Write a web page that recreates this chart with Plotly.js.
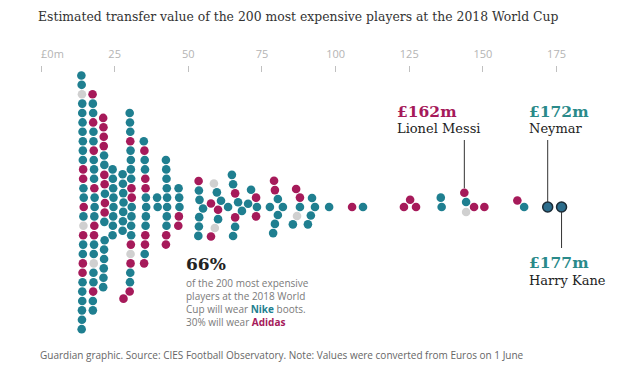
<!DOCTYPE html>
<html><head><meta charset="utf-8">
<script src="https://cdn.plot.ly/plotly-3.0.1.min.js"></script>
<style>html,body{margin:0;padding:0;background:#fff}#chart{width:623px;height:371px}</style>
</head><body><div id="chart"></div>
<script>
// Estimated transfer values (£m), ranked from most to least expensive
const values = [
  176.7,172.0,164.0,161.7,150.5,147.0,144.3,144.3,143.7,136.0,135.7,127.3,125.3,123.2,
  109.3,105.6,97.8,93.0,92.0,91.6,90.6,87.9,87.9,86.9,86.6,85.5,82.1,80.4,80.4,79.4,79.4,79.1,78.8,77.7,
  73.3,73.0,73.0,71.3,70.3,68.2,66.9,65.9,65.9,65.9,65.2,65.2,64.8,63.5,61.1,60.1,60.1,59.7,59.0,58.7,57.7,57.7,55.0,
  53.8,53.7,53.6,53.6,53.5,53.4,
  47.0,46.9,46.8,46.7,46.6,
  42.8,42.8,42.7,42.7,42.6,42.6,42.5,42.5,42.4,42.4,
  39.6,39.4,
  35.7,35.6,35.6,35.5,35.5,35.4,35.4,35.3,35.3,35.2,35.2,35.1,35.0,34.9,
  30.8,30.8,30.7,30.7,30.6,30.6,30.6,30.5,30.5,30.5,30.4,30.4,30.4,30.3,30.3,30.3,30.2,30.2,30.1,30.1,
  28.0,28.0,27.9,27.9,27.8,27.8,27.7,27.7,
  24.6,24.6,24.5,24.5,24.4,24.4,24.3,24.3,
  21.7,21.7,21.6,21.6,21.6,21.5,21.5,21.5,21.4,21.4,21.4,21.3,21.3,21.3,21.2,21.2,21.1,21.1,
  18.2,18.2,18.1,18.1,18.1,18.0,18.0,18.0,18.0,17.9,17.9,17.9,17.9,17.8,17.8,17.8,17.8,17.7,17.7,17.7,17.6,17.6,17.6,17.5,
  14.5,14.5,14.4,14.4,14.4,14.3,14.3,14.3,14.3,14.2,14.2,14.2,14.2,14.2,14.1,14.1,14.1,14.1,14.0,14.0,14.0,14.0,13.9,13.9,13.9,13.8,13.8,13.7
];
// Boot brand: N = Nike, A = Adidas, O = other
const brands = [
  'N','N','N','A','A','A','N','O','A','N','N','A','A','A',
  'N','A','N','N','N','N','N','N','A','O','A','N','N','N','N','A','N','A','N','N',
  'N','A','A','N','N','N','N','A','A','N','N','N','N','N','N','A','N','N','O','O','A','A','N',
  'N','N','N','N','A','N',
  'N','N','A','N','A',
  'N','N','N','N','N','N','A','N','A','N',
  'N','N',
  'N','N','N','A','N','A','A','N','A','N','N','A','A','N',
  'N','A','N','A','N','N','N','N','A','N','O','N','A','A','N','N','N','N','A','N',
  'N','A','N','N','N','N','N','N',
  'N','N','N','N','N','N','N','N',
  'A','N','A','A','N','N','A','N','N','N','N','A','N','A','N','A','N','A',
  'N','N','N','A','A','N','A','N','N','N','N','A','O','N','N','N','N','A','A','N','N','N','N','A',
  'A','N','N','N','O','A','A','A','N','N','N','N','A','N','A','N','N','N','N','N','N','N','N','O','N','N','N','N'
];
// Labelled players (rank index in the list above)
const labelRank = [0, 1, 8];
const labelNames = ['Harry Kane', 'Neymar', 'Lionel Messi'];
const labelAmounts = ['£177m', '£172m', '£162m'];
const tickValues = [0, 25, 50, 75, 100, 125, 150, 175];
const tickLabels = ['\u00a0\u00a0\u00a0\u00a0\u00a0\u00a0\u00a0\u00a0£0m', '25', '50', '75', '100', '125', '150', '175'];

const W = 623, H = 371;
const xRange = [-13.92, 197.56];
const pxPerUnit = W / (xRange[1] - xRange[0]);
const yRange = [-164, 207]; // 1 unit = 1 px
const D = 9.4; // collision distance in px

function swarm(xs) {
  const placed = [], ys = [];
  xs.forEach(v => {
    const x = v * pxPerUnit;
    const near = placed.filter(p => Math.abs(p.x - x) < D);
    const cands = [0];
    near.forEach(p => { const h = Math.sqrt(D * D - (p.x - x) ** 2); cands.push(p.y + h, p.y - h); });
    cands.sort((a, b) => (Math.abs(a) - Math.abs(b)) || (b - a));
    let y = 0;
    for (const c of cands) {
      if (near.every(p => (p.x - x) ** 2 + (p.y - c) ** 2 >= D * D - 1e-6)) { y = c; break; }
    }
    placed.push({x, y}); ys.push(y);
  });
  return ys;
}
const ys = swarm(values);

const brandColor = {N: '#1f7f90', A: '#a61a5a', O: '#d0d0d0'};
const highlightBig = [labelRank[0], labelRank[1]];
const colors = brands.map((b, i) => highlightBig.includes(i) ? '#2c6d8c' : brandColor[b]);
const sizes = brands.map((b, i) => highlightBig.includes(i) ? 10 : 8.6);
const lineW = brands.map((b, i) => highlightBig.includes(i) ? 1.5 : 0);

const trace = {
  type: 'scatter', mode: 'markers', x: values, y: ys,
  marker: {color: colors, size: sizes, line: {color: '#1b2b36', width: lineW}, opacity: 1},
  hoverinfo: 'x', showlegend: false
};

const serif = 'DejaVu Serif';
const sans = 'Open Sans';
const pinkText = '#a61a5a', tealText = '#2a8a8a';

// leader lines
const kane = labelRank[0], ney = labelRank[1], messi = labelRank[2];
const shapes = [
  {type: 'line', xref: 'x', yref: 'y', x0: values[messi], x1: values[messi], y0: ys[messi] + 4.5, y1: 67, line: {color: '#333', width: 1}},
  {type: 'line', xref: 'x', yref: 'y', x0: values[ney], x1: values[ney], y0: ys[ney] + 5, y1: 67, line: {color: '#333', width: 1}},
  {type: 'line', xref: 'x', yref: 'y', x0: values[kane], x1: values[kane], y0: ys[kane] - 5, y1: -41, line: {color: '#333', width: 1}}
];

function px(x) { return x / W; }
function py(y) { return 1 - y / H; }
const annotations = [
  {text: labelAmounts[2], x: px(395), y: py(111), font: {family: serif, size: 15.5, color: pinkText, weight: 'bold'}},
  {text: labelNames[2], x: px(395), y: py(129), font: {family: serif, size: 13, color: '#222'}},
  {text: labelAmounts[1], x: px(527), y: py(111), font: {family: serif, size: 15.5, color: tealText, weight: 'bold'}},
  {text: labelNames[1], x: px(527), y: py(129), font: {family: serif, size: 13, color: '#222'}},
  {text: labelAmounts[0], x: px(527), y: py(262), font: {family: serif, size: 15.5, color: tealText, weight: 'bold'}},
  {text: labelNames[0], x: px(527), y: py(280), font: {family: serif, size: 13, color: '#222'}},
  {text: '<b>66%</b>', x: px(184), y: py(264), font: {family: serif, size: 17, color: '#222'}},
  {text: 'of the 200 most expensive<br>players at the 2018 World<br>Cup will wear <b><span style="color:#1f7f90">Nike</span></b> boots.<br>30% will wear <b><span style="color:#a61a5a">Adidas</span></b>',
   x: px(184), y: py(302), align: 'left', font: {family: sans, size: 10, color: '#7a7a7a'}},
  {text: 'Guardian graphic. Source: CIES Football Observatory. Note: Values were converted from Euros on 1 June',
   x: px(38), y: py(355), font: {family: sans, size: 10, color: '#666'}}
].map(a => Object.assign({xref: 'paper', yref: 'paper', xanchor: 'left', yanchor: 'middle', showarrow: false}, a));

const layout = {
  width: W, height: H,
  margin: {l: 0, r: 0, t: 0, b: 0, pad: 0},
  paper_bgcolor: '#fff', plot_bgcolor: '#fff',
  title: {text: 'Estimated transfer value of the 200 most expensive players at the 2018 World Cup',
          xref: 'container', yref: 'container', x: 38 / W, xanchor: 'left', y: 1 - 17 / H, yanchor: 'middle',
          font: {family: serif, size: 12.4, color: '#333'}},
  xaxis: {range: xRange, side: 'top', anchor: 'free', position: (H - 72) / H,
          tickvals: tickValues, ticktext: tickLabels, ticks: 'outside', ticklen: 6, tickcolor: '#c0c0c0', tickwidth: 1,
          ticklabelstandoff: 4,
          showgrid: false, zeroline: false, showline: false, fixedrange: true,
          tickfont: {family: sans, size: 11, color: '#b4b4b4'}},
  yaxis: {range: yRange, visible: false, fixedrange: true},
  shapes: shapes, annotations: annotations, showlegend: false
};
Plotly.newPlot('chart', [trace], layout, {staticPlot: true, displayModeBar: false});
</script></body></html>
